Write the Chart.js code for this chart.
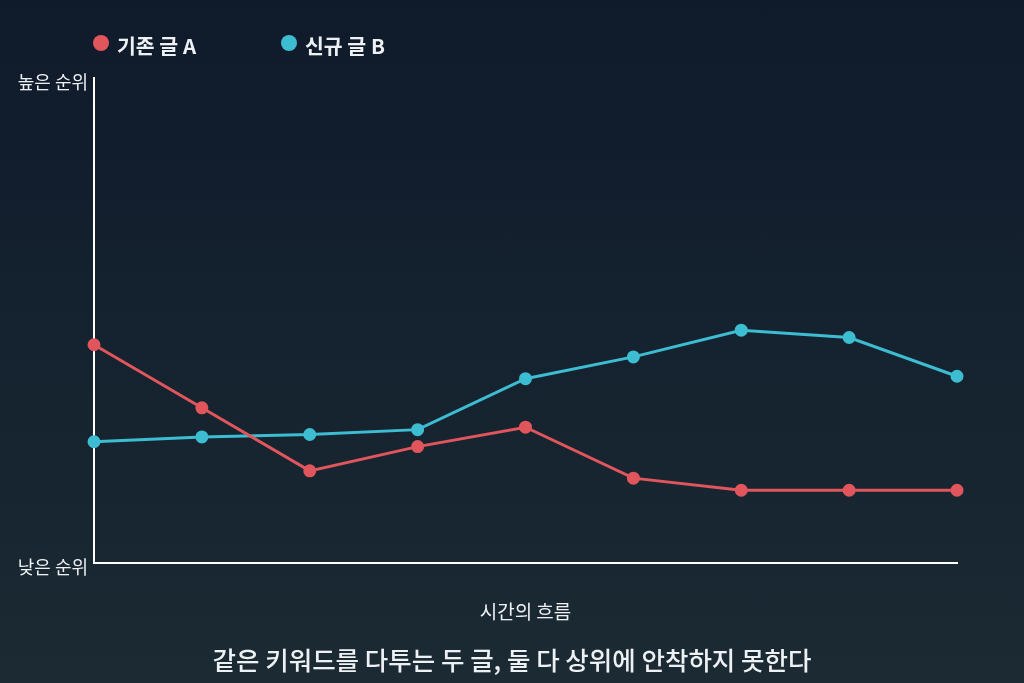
<!DOCTYPE html>
<html lang="ko">
<head>
<meta charset="utf-8">
<title>키워드 경쟁 순위</title>
<script src="https://cdn.jsdelivr.net/npm/chart.js@4.4.1/dist/chart.umd.min.js"></script>
<style>
  html, body {
    margin: 0;
    padding: 0;
    width: 1024px;
    height: 683px;
    overflow: hidden;
    background: linear-gradient(180deg, #0f1a2b 0%, #1b2a33 100%);
  }
  #wrap { width: 1024px; height: 683px; }
</style>
</head>
<body>
<div id="wrap"><canvas id="rankChart" width="1024" height="683"></canvas></div>
<script>
// time steps (no labels shown on the x axis)
const steps = ['1', '2', '3', '4', '5', '6', '7', '8', '9'];
// rank score: 0 = low rank, 100 = high rank
const postA = [45, 32, 19, 24, 28, 17.5, 15, 15, 15];
const postB = [25, 26, 26.5, 27.5, 38, 42.5, 48, 46.5, 38.5];
const seriesNames = ['기존 글 A', '신규 글 B'];
const yTickNames = { 0: '낮은 순위', 100: '높은 순위' };
const xTitle = '시간의 흐름';
const caption = '같은 키워드를 다투는 두 글, 둘 다 상위에 안착하지 못한다';

const RED = '#e0565c';
const CYAN = '#3dbdd2';
const TEXT = '#eef1f4';
const FONT = '"Noto Sans CJK KR", "Noto Sans", sans-serif';

// legend drawn as dots + labels at the top left
const dotLegend = {
  id: 'dotLegend',
  afterDraw(chart) {
    const ctx = chart.ctx;
    const spots = [101, 289];
    ctx.save();
    ctx.font = 'bold 20.5px ' + FONT;
    ctx.textBaseline = 'middle';
    chart.data.datasets.forEach((ds, i) => {
      const x = spots[i];
      ctx.fillStyle = ds.borderColor;
      ctx.beginPath();
      ctx.arc(x, 43, 8, 0, Math.PI * 2);
      ctx.fill();
      ctx.fillStyle = TEXT;
      ctx.fillText(ds.label, x + 16, 46);
    });
    ctx.restore();
  }
};

new Chart(document.getElementById('rankChart'), {
  type: 'line',
  data: {
    labels: steps,
    datasets: [
      {
        label: seriesNames[0],
        data: postA,
        borderColor: RED,
        backgroundColor: RED,
        borderWidth: 3,
        pointRadius: 5,
        pointHoverRadius: 5,
        tension: 0
      },
      {
        label: seriesNames[1],
        data: postB,
        borderColor: CYAN,
        backgroundColor: CYAN,
        borderWidth: 3,
        pointRadius: 5,
        pointHoverRadius: 5,
        tension: 0
      }
    ]
  },
  options: {
    responsive: false,
    animation: false,
    layout: {
      padding: { top: 78, right: 0, bottom: 0, left: 0 }
    },
    plugins: {
      legend: { display: false },
      tooltip: { enabled: false },
      title: {
        display: true,
        position: 'bottom',
        text: caption,
        color: TEXT,
        font: { family: FONT, size: 25.5, weight: '500' },
        padding: { top: 0, bottom: 7.7 }
      }
    },
    scales: {
      x: {
        grid: { display: false, drawTicks: false },
        border: { display: true, color: '#ffffff', width: 2 },
        ticks: { display: false },
        title: {
          display: true,
          text: xTitle,
          color: TEXT,
          font: { family: FONT, size: 19 },
          padding: { top: 37.6, bottom: 21.3 }
        }
      },
      y: {
        min: 0,
        max: 100,
        grid: { display: false, drawTicks: false },
        border: { display: true, color: '#ffffff', width: 2 },
        afterBuildTicks(scale) {
          scale.ticks = [{ value: 0 }, { value: 100 }];
        },
        afterFit(scale) {
          scale.width = 94;
        },
        ticks: {
          color: TEXT,
          padding: 6,
          labelOffset: 4,
          font: { family: FONT, size: 18 },
          callback: (v) => yTickNames[v] || ''
        }
      },
      // empty right-hand axis only reserves the space right of the plot
      spacer: {
        position: 'right',
        grid: { display: false, drawTicks: false },
        border: { display: false },
        ticks: { display: false },
        afterFit(scale) {
          scale.width = 67;
        }
      }
    }
  },
  plugins: [dotLegend]
});
</script>
</body>
</html>
